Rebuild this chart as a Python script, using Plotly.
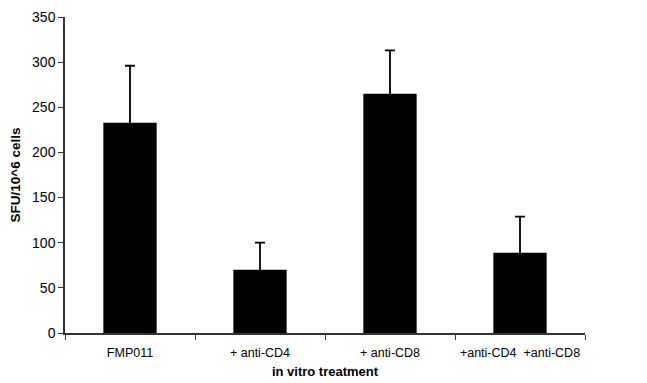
import plotly.graph_objects as go

categories = ["FMP011", "+ anti-CD4", "+ anti-CD8", "+anti-CD4  +anti-CD8"]
values = [233, 70, 265, 89]
errors = [63, 30, 48, 40]
y_ticks = [0, 50, 100, 150, 200, 250, 300, 350]

fig = go.Figure()
fig.add_trace(go.Bar(
    x=categories, y=values,
    marker=dict(color="black", line=dict(width=0)),
    error_y=dict(type="data", array=errors, symmetric=True,
                 color="black", thickness=1.8, width=5),
    width=0.41,
))

font_family = "Liberation Sans, Arial, sans-serif"
fig.update_layout(
    width=647, height=383,
    margin=dict(l=65, r=62, t=17, b=50),
    plot_bgcolor="white", paper_bgcolor="white",
    showlegend=False,
    font=dict(family=font_family, size=13, color="black"),
    xaxis=dict(
        showline=True, linecolor="#333333", linewidth=1.5, automargin=False,
        ticks="outside", tickson="boundaries", ticklen=5, tickcolor="#333333", tickwidth=1.2,
        tickfont=dict(size=12.5), showgrid=False, ticklabelstandoff=7,
        title=dict(text="<b>in vitro treatment</b>", font=dict(size=13), standoff=8),
    ),
    yaxis=dict(
        range=[0, 350], tickvals=y_ticks, showline=True, linecolor="#333333", linewidth=1.5,
        automargin=False,
        ticks="outside", ticklen=5, tickcolor="#333333", tickwidth=1.2,
        showgrid=False, zeroline=False, tickfont=dict(size=14),
        title=dict(text="<b>SFU/10^6 cells</b>", font=dict(size=13.5), standoff=8),
    ),
)
fig.write_html("out.html", config={"displayModeBar": False},
               post_script="document.body.style.margin='0';")
